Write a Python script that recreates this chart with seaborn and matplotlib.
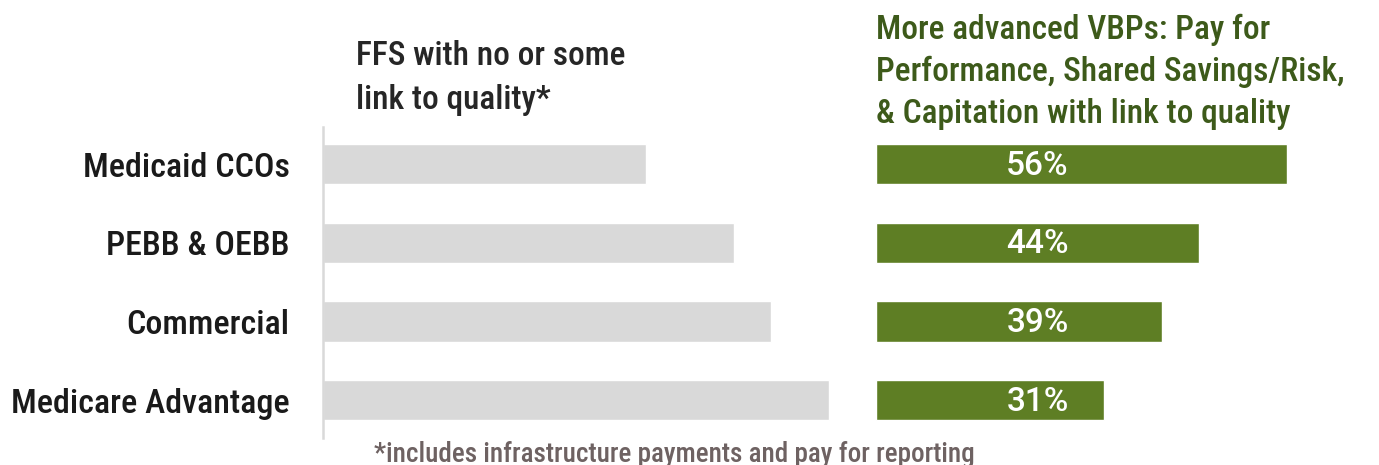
import matplotlib
matplotlib.use("Agg")
import matplotlib.pyplot as plt
import seaborn as sns
import pandas as pd

categories = ["Medicaid CCOs", "PEBB & OEBB", "Commercial", "Medicare Advantage"]
ffs_values = [44, 56, 61, 69]
vbp_values = [56, 44, 39, 31]
vbp_labels = ["56%", "44%", "39%", "31%"]

ffs_title = "FFS with no or some\nlink to quality*"
vbp_title = "More advanced VBPs: Pay for\nPerformance, Shared Savings/Risk,\n& Capitation with link to quality"
footnote = "*includes infrastructure payments and pay for reporting"

sns.set_theme(style="white")
FONT = ["Roboto Condensed", "DejaVu Sans"]
plt.rcParams["font.family"] = FONT

GRAY = "#d9d9d9"
GREEN = "#5e7e24"
DKGREEN = "#3d5a1a"
TXT = "#1a1a1a"

df = pd.DataFrame({"cat": categories, "ffs": ffs_values, "vbp": vbp_values})

W, H = 1379, 465
fig = plt.figure(figsize=(W / 100, H / 100), dpi=100)
scale = 7.34  # px per percent
y0, y1 = 127, 438
bottom = 1 - y1 / H
height = (y1 - y0) / H

lx0, lx1 = 323, 860
ax1 = fig.add_axes([lx0 / W, bottom, (lx1 - lx0) / W, height])
rx0, rx1 = 876, 1379
ax2 = fig.add_axes([rx0 / W, bottom, (rx1 - rx0) / W, height])

sns.barplot(data=df, y="cat", x="ffs", orient="h", color=GRAY, width=0.51,
            saturation=1, ax=ax1)
sns.barplot(data=df, y="cat", x="vbp", orient="h", color=GREEN, width=0.51,
            saturation=1, ax=ax2)

ax1.set_xlim(0, (lx1 - lx0) / scale)
ax2.set_xlim(0, (rx1 - rx0) / scale)
for ax in (ax1, ax2):
    ax.set_ylim(3.48, -0.47)
    ax.set_xlabel("")
    ax.set_ylabel("")
    ax.set_xticks([])
    for s in ax.spines.values():
        s.set_visible(False)

ax1.spines["left"].set_visible(True)
ax1.spines["left"].set_color(GRAY)
ax1.spines["left"].set_linewidth(1.8)
ax1.tick_params(axis="y", length=0, pad=24, labelsize=24.5, labelcolor=TXT)
for t in ax1.get_yticklabels():
    t.set_fontweight("medium")
ax2.set_yticks([])

for i, lab in enumerate(vbp_labels):
    ax2.text(22, i + 0.02, lab, ha="center", va="center", color="white",
             fontsize=24, fontweight="medium", family=["Roboto", "DejaVu Sans"])

fig.text(356 / W, 1 - 78 / H, ffs_title, ha="left", va="center", fontsize=24,
         color="#262626", linespacing=1.5, fontweight="medium")
fig.text(876 / W, 1 - 72 / H, vbp_title, ha="left", va="center", fontsize=24,
         color=DKGREEN, linespacing=1.38, fontweight="medium")
fig.text(674 / W, 1 - 454 / H, footnote, ha="center", va="center", fontsize=19.5,
         color="#6e6262", fontweight="medium")

fig.savefig("out.png", dpi=100, facecolor="white")
